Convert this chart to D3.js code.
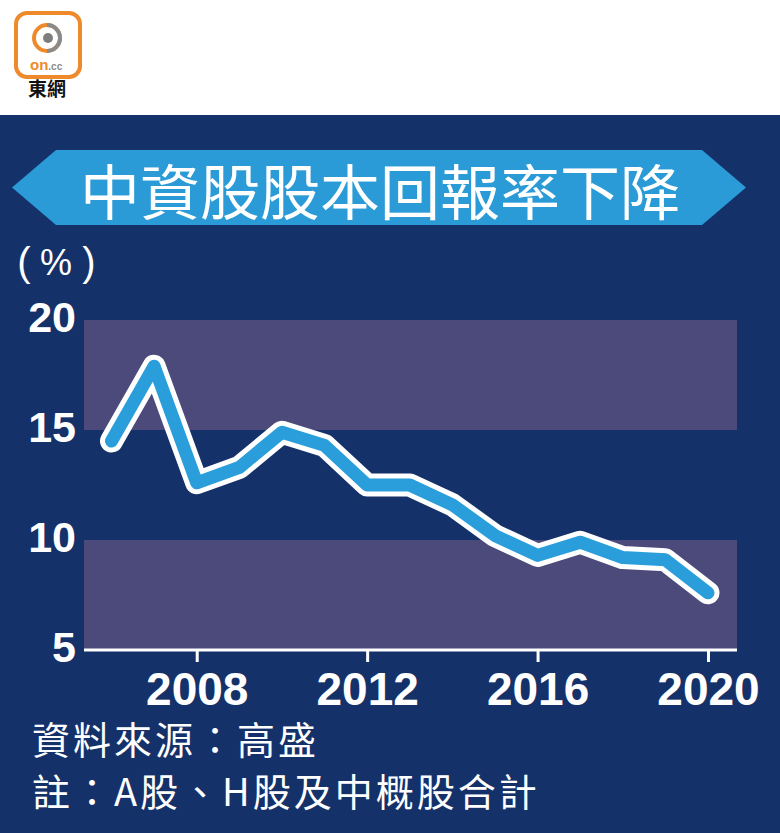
<!DOCTYPE html>
<html><head><meta charset="utf-8">
<script src="https://cdn.jsdelivr.net/npm/d3@7/dist/d3.min.js"></script>
<style>html,body{margin:0;padding:0;background:#fff;}svg{display:block;}</style>
</head><body>
<script>
const years = [2006, 2007, 2008, 2009, 2010, 2011, 2012, 2013, 2014, 2015, 2016, 2017, 2018, 2019, 2020];
const roe = [14.5, 17.9, 12.6, 13.3, 14.9, 14.3, 12.5, 12.5, 11.6, 10.2, 9.3, 9.9, 9.2, 9.1, 7.6];
const xTicks = [2008, 2012, 2016, 2020];
const yTicks = [5, 10, 15, 20];
const bandRanges = [[15, 20], [5, 10]];
const title = "中資股股本回報率下降";
const unitParts = ["(", "%", ")"];
const sourceText = "資料來源：高盛";
const noteText = "註：A股、H股及中概股合計";

const W = 780, H = 833;
const navy = "#15316a", band = "#4b4a7b", blue = "#2a9edb";

const svg = d3.select("body").append("svg").attr("width", W).attr("height", H);
svg.append("rect").attr("width", W).attr("height", H).attr("fill", "#fff");
svg.append("rect").attr("x", 0).attr("y", 115).attr("width", W).attr("height", H - 115).attr("fill", navy);

// logo
const logo = svg.append("g");
logo.append("rect").attr("x", 16).attr("y", 13).attr("width", 64).attr("height", 64).attr("rx", 11)
  .attr("fill", "#fff").attr("stroke", "#ef8a2c").attr("stroke-width", 4);
logo.append("circle").attr("cx", 47).attr("cy", 38).attr("r", 13).attr("fill", "none").attr("stroke", "#ef8a2c").attr("stroke-width", 4);
logo.append("path").attr("d", "M 47 25 A 13 13 0 0 1 60 38 A 13 13 0 0 1 47 51").attr("fill", "none").attr("stroke", "#8a8a8a").attr("stroke-width", 4);
logo.append("circle").attr("cx", 48).attr("cy", 38).attr("r", 5).attr("fill", "#7d7d7d");
const lt = logo.append("text").attr("x", 30).attr("y", 70).attr("font-family", "Liberation Sans, Arial, sans-serif").attr("font-weight", "bold");
lt.append("tspan").attr("fill", "#ef8a2c").attr("font-size", 15).text("on");
lt.append("tspan").attr("fill", "#8a8a8a").attr("font-size", 10).text(".cc");
logo.append("text").attr("x", 47).attr("y", 96).attr("text-anchor", "middle").attr("font-size", 19).attr("font-weight", "bold")
  .attr("font-family", "Noto Sans CJK TC, sans-serif").attr("fill", "#111").text("東網");

// title banner
svg.append("polygon").attr("points", "12,187.5 56,150 702,150 746,187.5 702,225 56,225").attr("fill", "#2a9bd7");
svg.append("text").attr("x", 380).attr("y", 188).attr("text-anchor", "middle").attr("dominant-baseline", "central")
  .attr("font-family", "Noto Sans CJK TC, sans-serif").attr("font-weight", 400).attr("font-size", 60)
  .attr("fill", "#fff").text(title);

// unit label (%)
const unitX = [24, 56, 89];
svg.append("g").selectAll("text").data(unitParts).join("text")
  .attr("x", (d, i) => unitX[i]).attr("y", 262).attr("text-anchor", "middle").attr("dominant-baseline", "central")
  .attr("font-family", "Liberation Sans, Arial, sans-serif")
  .attr("font-size", (d, i) => i === 1 ? 36 : 40).attr("fill", "#fff").text(d => d);

// scales
const x = d3.scaleLinear().domain([2006, 2020]).range([111.5, 708]);
const y = d3.scaleLinear().domain([5, 20]).range([650, 320]);
const plotL = 84, plotR = 737;

svg.append("g").selectAll("rect").data(bandRanges).join("rect")
  .attr("x", plotL).attr("width", plotR - plotL)
  .attr("y", d => y(d[1])).attr("height", d => y(d[0]) - y(d[1]))
  .attr("fill", band);

// y labels
svg.append("g").selectAll("text").data(yTicks).join("text")
  .attr("x", 76).attr("y", d => y(d) - 3).attr("text-anchor", "end").attr("dominant-baseline", "central")
  .attr("font-family", "Liberation Sans, Arial, sans-serif").attr("font-weight", "bold").attr("font-size", 43)
  .attr("fill", "#fff").text(d => d);

// x axis
svg.append("line").attr("x1", plotL).attr("x2", plotR).attr("y1", y(5)).attr("y2", y(5))
  .attr("stroke", "#fff").attr("stroke-width", 3);
const xAxis = svg.append("g").attr("transform", `translate(0,${y(5)})`)
  .call(d3.axisBottom(x).tickValues(xTicks).tickSize(12).tickPadding(10).tickFormat(d3.format("d")));
xAxis.select(".domain").remove();
xAxis.selectAll(".tick line").attr("stroke", "#fff").attr("stroke-width", 3);
xAxis.selectAll(".tick text").attr("fill", "#fff").attr("font-family", "Liberation Sans, Arial, sans-serif")
  .attr("font-weight", "bold").attr("font-size", 46).attr("dy", "0.71em");

// line
const line = d3.line().x((d, i) => x(years[i])).y(d => y(d));
svg.append("path").attr("d", line(roe)).attr("fill", "none").attr("stroke", "#fff").attr("stroke-width", 23)
  .attr("stroke-linejoin", "round").attr("stroke-linecap", "round");
svg.append("path").attr("d", line(roe)).attr("fill", "none").attr("stroke", blue).attr("stroke-width", 13)
  .attr("stroke-linejoin", "round").attr("stroke-linecap", "round");

// footnotes
svg.append("text").attr("x", 32).attr("y", 754).attr("font-family", "Noto Sans CJK TC, sans-serif")
  .attr("font-size", 38).attr("letter-spacing", 3).attr("fill", "#fff").text(sourceText);
svg.append("text").attr("x", 32).attr("y", 806).attr("font-family", "Noto Sans CJK TC, sans-serif")
  .attr("font-size", 38).attr("letter-spacing", 3).attr("fill", "#fff").text(noteText);
</script>
</body></html>
